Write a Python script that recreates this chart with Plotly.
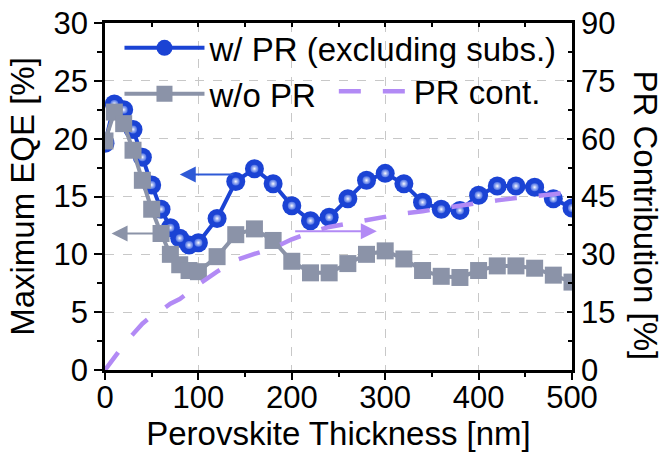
import plotly.graph_objects as go

# Perovskite thickness sweep (nm)
thickness = [0, 10, 20, 30, 40, 50, 60, 70, 80, 90, 100,
             120, 140, 160, 180, 200, 220, 240, 260, 280, 300,
             320, 340, 360, 380, 400, 420, 440, 460, 480, 500]

# Maximum EQE (%) with photon recycling (excluding substrate)
eqe_with_pr = [19.6, 23.0, 22.5, 20.8, 18.4, 16.0, 13.9, 12.3, 11.4, 10.8, 11.0,
               13.1, 16.3, 17.4, 16.1, 14.2, 12.9, 13.2, 14.8, 16.4, 17.0,
               16.1, 14.5, 13.9, 13.8, 15.1, 15.9, 15.9, 15.8, 14.8, 14.0]

# Maximum EQE (%) without photon recycling
eqe_without_pr = [19.8, 22.3, 21.3, 19.0, 16.4, 13.9, 11.8, 10.0, 9.1, 8.6, 8.5,
                  9.8, 11.7, 12.2, 11.2, 9.4, 8.4, 8.4, 9.2, 10.0, 10.3,
                  9.6, 8.6, 8.1, 8.0, 8.6, 9.0, 9.0, 8.8, 8.2, 7.6]

# Photon-recycling contribution (%)
pr_contribution = [0.0, 3.3, 6.5, 9.3, 12.0, 14.0, 15.4, 17.2, 18.4, 20.2, 22.2,
                   25.5, 28.5, 30.1, 31.6, 33.9, 35.7, 37.1, 38.0, 38.9, 39.8,
                   40.6, 41.2, 41.9, 42.8, 43.4, 44.0, 44.6, 45.0, 45.6, 46.2]

left_ticks = [0, 5, 10, 15, 20, 25, 30]
right_ticks = [0, 15, 30, 45, 60, 75, 90]
x_ticks = [0, 100, 200, 300, 400, 500]

BLUE = "#1b43d4"
GRAY = "#8b93a8"
PURPLE = "#b28af5"
FONT = "Liberation Sans, Arial, sans-serif"
TICK_SIZE = 31
TITLE_SIZE = 33

fig = go.Figure()

fig.add_trace(go.Scatter(
    x=thickness, y=eqe_with_pr, mode="lines+markers",
    name="w/ PR (excluding subs.)",
    line=dict(color=BLUE, width=4),
    marker=dict(symbol="circle", size=19, color=BLUE),
    legend="legend",
))
# glossy highlight on the spheres
fig.add_trace(go.Scatter(
    x=thickness, y=eqe_with_pr, mode="markers", showlegend=False,
    hoverinfo="skip",
    marker=dict(symbol="circle", size=8, color="rgba(120,150,240,0.6)",
                gradient=dict(type="radial", color="white")),
))
fig.add_trace(go.Scatter(
    x=thickness, y=eqe_without_pr, mode="lines+markers",
    name="w/o PR",
    line=dict(color=GRAY, width=4),
    marker=dict(symbol="square", size=17, color=GRAY),
    legend="legend",
))
fig.add_trace(go.Scatter(
    x=thickness, y=pr_contribution, mode="lines",
    name="PR cont.",
    xaxis="x2", yaxis="y2",
    line=dict(color=PURPLE, width=4.5, dash="22px,22px"),
    legend="legend2",
))

axis_common = dict(
    showline=True, linecolor="black", linewidth=2.5,
    tickcolor="black", tickwidth=2,
    tickfont=dict(family=FONT, size=TICK_SIZE, color="black"),
    zeroline=False, automargin=False,
)

fig.update_layout(
    width=665, height=456,
    margin=dict(l=105, r=93, t=23, b=86),
    paper_bgcolor="white", plot_bgcolor="white",
    font=dict(family=FONT, color="black"),
    xaxis=dict(
        **axis_common,
        range=[0, 500], tickvals=x_ticks, ticks="outside", ticklen=7,
        ticklabelstandoff=-9,
        minor=dict(dtick=50, ticks="outside", ticklen=4, tickwidth=2, tickcolor="black"),
        showgrid=True, gridcolor="#c8c8c8", griddash="dash", gridwidth=1,
        title=dict(text="Perovskite Thickness [nm]",
                   font=dict(family=FONT, size=TITLE_SIZE, color="black"), standoff=6),
    ),
    xaxis2=dict(
        **axis_common,
        range=[0, 500], overlaying="x", side="top", anchor="y2",
        tickvals=x_ticks, ticks="inside", ticklen=4, showticklabels=False,
        minor=dict(dtick=50, ticks="inside", ticklen=4, tickwidth=2, tickcolor="black"),
        showgrid=False,
    ),
    yaxis=dict(
        **axis_common,
        range=[0, 30], tickvals=left_ticks, ticks="outside", ticklen=8,
        minor=dict(dtick=2.5, ticks="outside", ticklen=5, tickwidth=2, tickcolor="black"),
        showgrid=True, gridcolor="#c8c8c8", griddash="dash", gridwidth=1,
        title=dict(text="Maximum EQE [%]",
                   font=dict(family=FONT, size=TITLE_SIZE, color="black"), standoff=10),
    ),
    yaxis2=dict(
        **axis_common,
        range=[0, 90], overlaying="y", side="right", anchor="x2",
        tickvals=right_ticks, ticks="inside", ticklen=5,
        minor=dict(dtick=7.5, ticks="inside", ticklen=4, tickwidth=2, tickcolor="black"),
        showgrid=False,
    ),
    legend=dict(
        x=0.031, y=1.009, xanchor="left", yanchor="top",
        bgcolor="rgba(0,0,0,0)", itemwidth=80, tracegroupgap=0,
        font=dict(family=FONT, size=TITLE_SIZE, color="black"),
        traceorder="normal",
    ),
    legend2=dict(
        x=0.49, y=0.884, xanchor="left", yanchor="top",
        bgcolor="rgba(0,0,0,0)", itemwidth=70,
        font=dict(family=FONT, size=TITLE_SIZE, color="black"),
    ),
    showlegend=True,
)

# direction arrows pointing to each series' axis
fig.add_annotation(x=80, y=16.9, ax=139, ay=16.9, xref="x", yref="y",
                   axref="x", ayref="y", text="", showarrow=True,
                   arrowhead=2, arrowsize=1.6, arrowwidth=2, arrowcolor="#2f5ad6")
fig.add_annotation(x=7, y=11.8, ax=59, ay=11.8, xref="x", yref="y",
                   axref="x", ayref="y", text="", showarrow=True,
                   arrowhead=2, arrowsize=1.6, arrowwidth=2, arrowcolor=GRAY)
fig.add_annotation(x=291, y=36, ax=202, ay=36, xref="x2", yref="y2",
                   axref="x2", ayref="y2", text="", showarrow=True,
                   arrowhead=2, arrowsize=1.6, arrowwidth=2, arrowcolor=PURPLE)

# right-hand axis title, reading top to bottom
fig.add_annotation(text="PR Contribution [%]", xref="paper", yref="paper",
                   x=1.158, y=0.446, xanchor="center", yanchor="middle",
                   textangle=90, showarrow=False,
                   font=dict(family=FONT, size=TITLE_SIZE, color="black"))

fig.write_html("out.html")
